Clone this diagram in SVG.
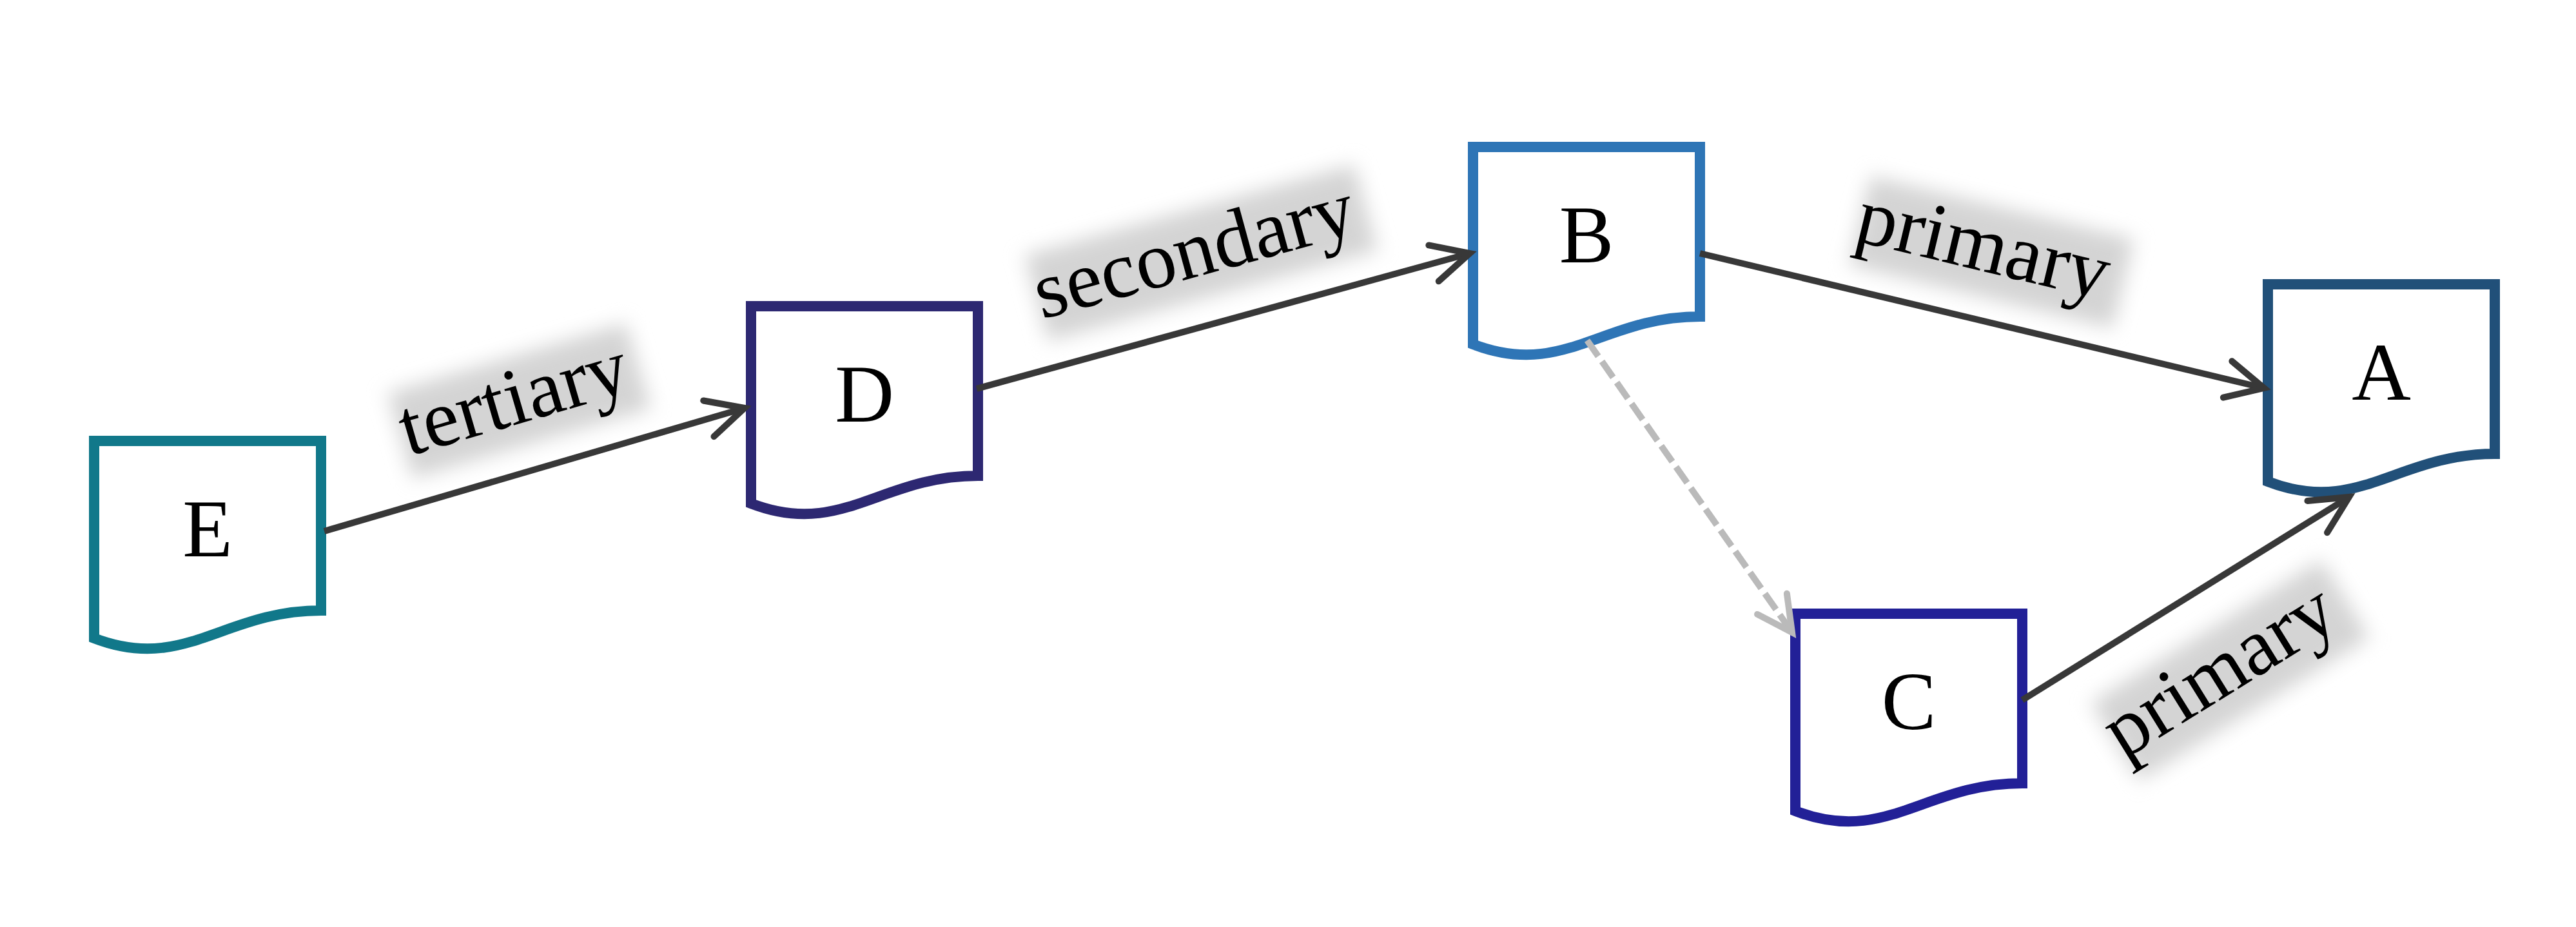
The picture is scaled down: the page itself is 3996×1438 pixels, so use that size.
<svg xmlns="http://www.w3.org/2000/svg" xmlns:xlink="http://www.w3.org/1999/xlink" width="3996" height="1438" viewBox="0 0 3996 1438">
<style>
.node{fill:#ffffff;stroke-width:16;stroke-linejoin:miter}
.nlabel{font-family:"Liberation Serif","Times New Roman",serif;font-size:127px;fill:#000;text-anchor:middle}
.elabel{font-family:"Liberation Serif","Times New Roman",serif;font-size:126px;fill:#000;text-anchor:middle}
.edge{fill:none;stroke:#383838;stroke-width:10}
.dashed{fill:none;stroke:#bababa;stroke-width:10;stroke-dasharray:30 10}
.shadow{fill:#d4d4d4;filter:url(#soft)}
</style>
<defs>
<path id="doc" d="M0,0 H352 V263 C200,263 140,360 0,306 Z"/>
<filter id="soft" x="-30%" y="-70%" width="160%" height="240%"><feGaussianBlur stdDeviation="15"/></filter>
<marker id="arrDark" markerUnits="userSpaceOnUse" markerWidth="100" markerHeight="100" refX="0" refY="0" orient="auto" overflow="visible">
<path d="M-58,-29 L0,0 L-58,29" fill="none" stroke="#383838" stroke-width="10" stroke-linecap="round" stroke-linejoin="miter"/>
</marker>
<marker id="arrGray" markerUnits="userSpaceOnUse" markerWidth="100" markerHeight="100" refX="0" refY="0" orient="auto" overflow="visible">
<path d="M-54,-28 L0,0 L-54,28" fill="none" stroke="#bababa" stroke-width="10" stroke-linecap="round" stroke-linejoin="miter"/>
</marker>
</defs>
<rect width="3996" height="1438" fill="#ffffff"/>
<g id="node-E">
<use xlink:href="#doc" href="#doc" class="node" stroke="#11788a" transform="translate(146,684)"/>
<text class="nlabel" x="322" y="863">E</text>
</g>
<g id="node-D">
<use xlink:href="#doc" href="#doc" class="node" stroke="#2d2872" transform="translate(1165,475)"/>
<text class="nlabel" x="1341" y="654">D</text>
</g>
<g id="node-B">
<use xlink:href="#doc" href="#doc" class="node" stroke="#2e75b6" transform="translate(2285,228)"/>
<text class="nlabel" x="2461" y="407">B</text>
</g>
<g id="node-A">
<use xlink:href="#doc" href="#doc" class="node" stroke="#215079" transform="translate(3518,441)"/>
<text class="nlabel" x="3694" y="620">A</text>
</g>
<g id="node-C">
<use xlink:href="#doc" href="#doc" class="node" stroke="#222097" transform="translate(2785,952)"/>
<text class="nlabel" x="2961" y="1131">C</text>
</g>
<g id="connectors">
<line class="edge" x1="503" y1="824" x2="1155" y2="633" marker-end="url(#arrDark)"/>
<line class="edge" x1="1515" y1="603" x2="2280" y2="393" marker-end="url(#arrDark)"/>
<line class="edge" x1="2637" y1="393" x2="3512" y2="602" marker-end="url(#arrDark)"/>
<line class="edge" x1="3137" y1="1086" x2="3644" y2="771" marker-end="url(#arrDark)"/>
<line class="dashed" x1="2462" y1="528" x2="2780" y2="981" marker-end="url(#arrGray)"/>
<g transform="translate(829,728.5) rotate(-16.33)">
<rect class="shadow" x="-185" y="-178" width="385" height="138"/>
<text class="elabel" x="0" y="-75">tertiary</text>
</g>
<g transform="translate(1897.5,498) rotate(-15.35)">
<rect class="shadow" x="-270" y="-180" width="530" height="138"/>
<text class="elabel" x="-15" y="-77">secondary</text>
</g>
<g transform="translate(3074.5,497.5) rotate(13.43)">
<rect class="shadow" x="-220" y="-178" width="420" height="142"/>
<text class="elabel" x="-25" y="-75">primary</text>
</g>
<g transform="translate(3390.5,928.5) rotate(-31.85)">
<rect class="shadow" x="-210" y="60" width="420" height="142"/>
<text class="elabel" x="-15" y="162">primary</text>
</g>
</g>
</svg>
